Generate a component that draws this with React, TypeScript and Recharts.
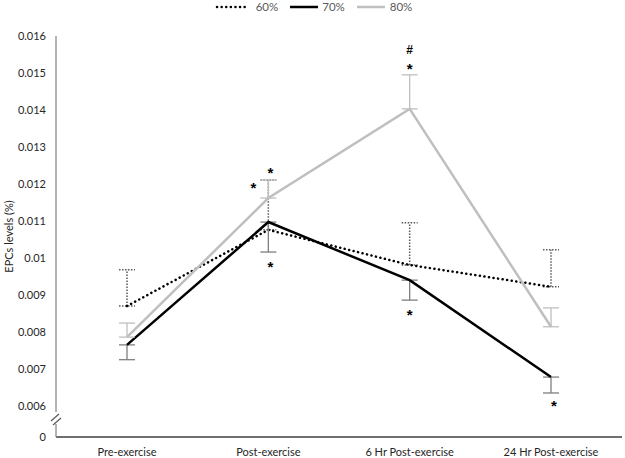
import React from "react";
import { ComposedChart, Line, XAxis, YAxis, ErrorBar, ReferenceDot, Label } from "recharts";

const categories = ["Pre-exercise", "Post-exercise", "6 Hr Post-exercise", "24 Hr Post-exercise"];

// mean values and (one-sided) SD
const series60 = [0.0087, 0.01076, 0.00981, 0.00922];
const error60 = [0.00098, 0.00135, 0.00114, 0.001];
const series70 = [0.00765, 0.01097, 0.0094, 0.00678];
const error70 = [0.0004, 0.00081, 0.00054, 0.00043];
const series80 = [0.00786, 0.01162, 0.01403, 0.00814];
const error80 = [0.00038, 0.00049, 0.00092, 0.00051];

// bottom of the broken axis stands in for "0"
const axisFloor = 0.00516;
const yTicks = [axisFloor, 0.006, 0.007, 0.008, 0.009, 0.01, 0.011, 0.012, 0.013, 0.014, 0.015, 0.016];

const annotations = [
  { cat: "Post-exercise", y: 0.01238, text: "*", dx: 2 },
  { cat: "Post-exercise", y: 0.01197, text: "*", dx: -15 },
  { cat: "Post-exercise", y: 0.00984, text: "*", dx: 2 },
  { cat: "6 Hr Post-exercise", y: 0.01562, text: "#", dx: 0 },
  { cat: "6 Hr Post-exercise", y: 0.01519, text: "*", dx: 0 },
  { cat: "6 Hr Post-exercise", y: 0.00854, text: "*", dx: 0 },
  { cat: "24 Hr Post-exercise", y: 0.00608, text: "*", dx: 3 },
];

const data = categories.map((name, i) => ({
  name,
  v60: series60[i],
  e60: [0, error60[i]],
  v70: series70[i],
  e70: [error70[i], 0],
  v80: series80[i],
  e80: [0, error80[i]],
}));

const FONT = "Lato, 'Liberation Sans', sans-serif";
const MARK_FONT = "'Liberation Sans', Arial, sans-serif";

const fmt = (v: number) => (v < 0.0059 ? "0" : String(+v.toFixed(3)));

function LegendItem({ label, stroke, dash, gap }: { label: string; stroke: string; dash?: string; gap: number }) {
  return (
    <span style={{ display: "inline-flex", alignItems: "center", marginRight: 10 }}>
      <svg width={32} height={8}>
        <line x1={2} y1={4} x2={30} y2={4} stroke={stroke} strokeWidth={2.5}
          strokeDasharray={dash} strokeLinecap={dash ? "round" : "butt"} />
      </svg>
      <span style={{ marginLeft: gap }}>{label}</span>
    </span>
  );
}

export default function App() {
  return (
    <div style={{ position: "absolute", left: 0, top: 0, width: 625, height: 458, background: "#fff", fontFamily: FONT }}>
      <div style={{ position: "absolute", top: 0, left: 6, width: 625, textAlign: "center", fontSize: 11.5, color: "#595959", lineHeight: "14px" }}>
        <LegendItem label="60%" stroke="#000" dash="0.1 4.5" gap={9} />
        <LegendItem label="70%" stroke="#000" gap={2} />
        <LegendItem label="80%" stroke="#bfbfbf" gap={3} />
      </div>
      <ComposedChart width={625} height={458} data={data} margin={{ top: 36, right: 3, bottom: 0, left: 0 }}>
        <XAxis
          dataKey="name"
          height={21}
          padding={{ left: 71, right: 71 }}
          axisLine={{ stroke: "#404040", strokeWidth: 1.3 }}
          tickLine={false}
          tickSize={0}
          tickMargin={11}
          tick={{ fill: "#262626", fontSize: 11, fontFamily: FONT }}
        />
        <YAxis
          type="number"
          domain={[axisFloor, 0.016]}
          ticks={yTicks}
          tickFormatter={fmt}
          width={56}
          axisLine={{ stroke: "#8c8c8c", strokeWidth: 1.3 }}
          tickLine={false}
          tickSize={8}
          tickMargin={2}
          tick={{ fill: "#262626", fontSize: 11, fontFamily: FONT }}
        >
          <Label value="EPCs levels (%)" angle={-90} position="insideLeft" offset={9}
            style={{ fill: "#262626", fontSize: 11, fontFamily: FONT, textAnchor: "middle" }} />
        </YAxis>
        <Line type="linear" dataKey="v60" stroke="#000" strokeWidth={2.5} strokeDasharray="0.1 4.5"
          strokeLinecap="round" dot={false} isAnimationActive={false}>
          <ErrorBar dataKey="e60" width={8} stroke="#595959" strokeWidth={1.5} strokeDasharray="1.5 1.5" />
        </Line>
        <Line type="linear" dataKey="v70" stroke="#000" strokeWidth={2.5} dot={false} isAnimationActive={false}>
          <ErrorBar dataKey="e70" width={8} stroke="#7f7f7f" strokeWidth={1.3} />
        </Line>
        <Line type="linear" dataKey="v80" stroke="#bfbfbf" strokeWidth={2.5} dot={false} isAnimationActive={false}>
          <ErrorBar dataKey="e80" width={8} stroke="#bfbfbf" strokeWidth={1.3} />
        </Line>
        {annotations.map((a, i) => (
          <ReferenceDot
            key={i}
            x={a.cat}
            y={a.y}
            r={0}
            shape={(p: any) => (
              <text x={p.cx + a.dx} y={p.cy + (a.text === "*" ? 8 : 4)} textAnchor="middle"
                fontSize={a.text === "*" ? 15 : 12} fontWeight="bold" fontFamily={MARK_FONT} fill="#000">{a.text}</text>
            )}
          />
        ))}
      </ComposedChart>
      <svg width={625} height={458} style={{ position: "absolute", left: 0, top: 0, pointerEvents: "none" }}>
        <rect x={52} y={412} width={9} height={12} fill="#fff" />
        <line x1={51} y1={421} x2={59} y2={414} stroke="#595959" strokeWidth={1.2} />
        <line x1={53} y1={425} x2={61} y2={418} stroke="#595959" strokeWidth={1.2} />
      </svg>
    </div>
  );
}
